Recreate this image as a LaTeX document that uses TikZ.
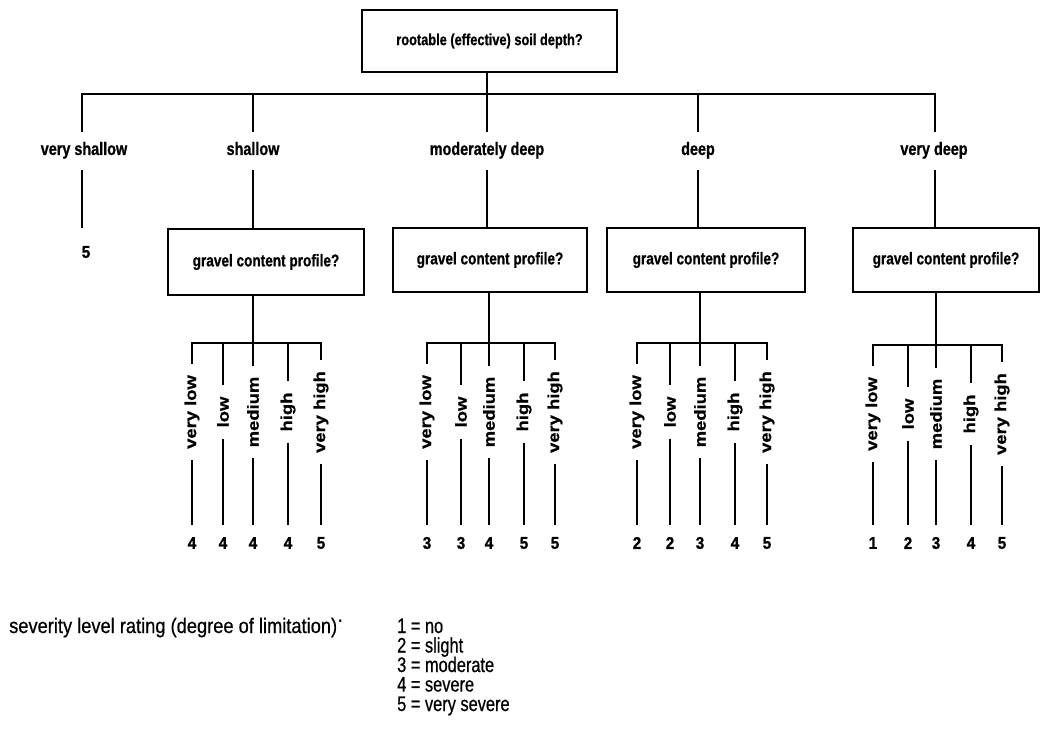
\documentclass[tikz,border=0pt]{standalone}
\usepackage{fontspec}
\setmainfont{Liberation Sans}
\newfontfamily\condf{Liberation Sans}[FakeStretch=0.8,FakeBold=0.8]
\newfontfamily\numf{Liberation Sans}[FakeStretch=0.9,FakeBold=1]
\newfontfamily\widef{Liberation Sans}[FakeStretch=1.15,FakeBold=0.8]
\newfontfamily\legf{Liberation Sans}[FakeStretch=0.87,FakeBold=0.5]
\newfontfamily\legn{Liberation Sans}[FakeStretch=0.78,FakeBold=0.6]
\begin{document}
\begin{tikzpicture}[x=1pt,y=-1pt,line width=2.4pt,
  qbox/.style={draw,line width=2.2pt,font=\condf\bfseries\fontsize{16}{18}\selectfont,inner sep=0pt},
  gbox/.style={qbox,font=\condf\bfseries\fontsize{17}{19}\selectfont},
  lvl/.style={font=\condf\bfseries\fontsize{18}{20}\selectfont,text height=12pt,text depth=4pt,inner ysep=10pt,inner xsep=0pt},
  cls/.style={rotate=90,font=\widef\bfseries\fontsize{16}{18}\selectfont,inner xsep=10pt,inner ysep=0pt},
  num/.style={font=\numf\bfseries\fontsize{17}{19}\selectfont,inner xsep=0pt,inner ysep=11pt},
  leg/.style={font=\legf\fontsize{21}{22}\selectfont,anchor=base west,inner sep=0pt},
  legk/.style={leg,font=\legn\fontsize{21}{22}\selectfont}
]
\useasboundingbox (0,0) rectangle (1041,730);

% root
\node[qbox,minimum width=255pt,minimum height=62pt] (root) at (489.5,41) {rootable (effective) soil depth?};

% top bar
\coordinate (t1) at (82,94);
\coordinate (t2) at (253,94);
\coordinate (t3) at (487,94);
\coordinate (t4) at (698,94);
\coordinate (t5) at (935,94);

% level labels
\node[lvl] (L1) at (84,151) {very shallow};
\node[lvl] (L2) at (253,151) {shallow};
\node[lvl] (L3) at (487,151) {moderately deep};
\node[lvl] (L4) at (698,151) {deep};
\node[lvl] (L5) at (934,151) {very deep};
\draw (t1 |- L1.north) -- (t1) -- (t5) -- (t5 |- L5.north);
\draw (root.south -| t3) -- (t3);
\foreach \i in {2,3,4} {\draw (t\i) -- (L\i);}

% very shallow result
\coordinate (vsend) at (82,228);
\draw (t1 |- L1.south) -- (vsend);
\node[num,inner ysep=0pt] (v5) at (86,252) {5};

% gravel boxes
\node[gbox,minimum width=196pt,minimum height=66pt] (g2) at (266,262) {gravel content profile?};
\node[gbox,minimum width=194pt,minimum height=64pt] (g3) at (490,260) {gravel content profile?};
\node[gbox,minimum width=198pt,minimum height=64pt] (g4) at (706,260) {gravel content profile?};
\node[gbox,minimum width=186pt,minimum height=64pt] (g5) at (946,260) {gravel content profile?};
\foreach \i in {2,3,4} {\draw (L\i) -- (L\i |- g\i.north);}
\draw (t5 |- L5.south) -- (t5 |- g5.north);

% shallow children
\foreach \x/\t/\n [count=\i] in {192/very low/4,223/low/4,253/medium/4,288/high/4,321/very high/5} {
  \coordinate (a\i) at (\x,343);
  \node[cls] (al\i) at (\x,412) {\t};
  \node[num] (an\i) at (\x,543) {\n};
  \draw (al\i) -- (an\i);
}
\draw (al1) -- (a1) -- (a5) -- (al5);
\foreach \i in {2,3,4} {\draw (a\i) -- (al\i);}
\draw (g2.south -| a3) -- (a3);

% moderately deep children
\foreach \x/\t/\n [count=\i] in {427/very low/3,461/low/3,489/medium/4,524/high/5,555/very high/5} {
  \coordinate (b\i) at (\x,343);
  \node[cls] (bl\i) at (\x,412) {\t};
  \node[num] (bn\i) at (\x,543) {\n};
  \draw (bl\i) -- (bn\i);
}
\draw (bl1) -- (b1) -- (b5) -- (bl5);
\foreach \i in {2,3,4} {\draw (b\i) -- (bl\i);}
\draw (g3.south -| b3) -- (b3);

% deep children
\foreach \x/\t/\n [count=\i] in {637/very low/2,670/low/2,700/medium/3,735/high/4,767/very high/5} {
  \coordinate (c\i) at (\x,343);
  \node[cls] (cl\i) at (\x,412) {\t};
  \node[num] (cn\i) at (\x,543) {\n};
  \draw (cl\i) -- (cn\i);
}
\draw (cl1) -- (c1) -- (c5) -- (cl5);
\foreach \i in {2,3,4} {\draw (c\i) -- (cl\i);}
\draw (g4.south -| c3) -- (c3);

% very deep children
\foreach \x/\t/\n [count=\i] in {873/very low/1,908/low/2,936/medium/3,971/high/4,1002/very high/5} {
  \coordinate (d\i) at (\x,345);
  \node[cls] (dl\i) at (\x,414) {\t};
  \node[num] (dn\i) at (\x,543) {\n};
  \draw (dl\i) -- (dn\i);
}
\draw (dl1) -- (d1) -- (d5) -- (dl5);
\foreach \i in {2,3,4} {\draw (d\i) -- (dl\i);}
\draw (g5.south -| d3) -- (d3);

% legend
\node[leg] (legt) at (8,633) {severity level rating (degree of limitation)\raisebox{0.6ex}{·}};
\node[legk] (k1) at (396,633) {1 = no};
\node[legk] (k2) at (396,652.5) {2 = slight};
\node[legk] (k3) at (396,672) {3 = moderate};
\node[legk] (k4) at (396,691.5) {4 = severe};
\node[legk] (k5) at (396,711) {5 = very severe};
\end{tikzpicture}
\end{document}
